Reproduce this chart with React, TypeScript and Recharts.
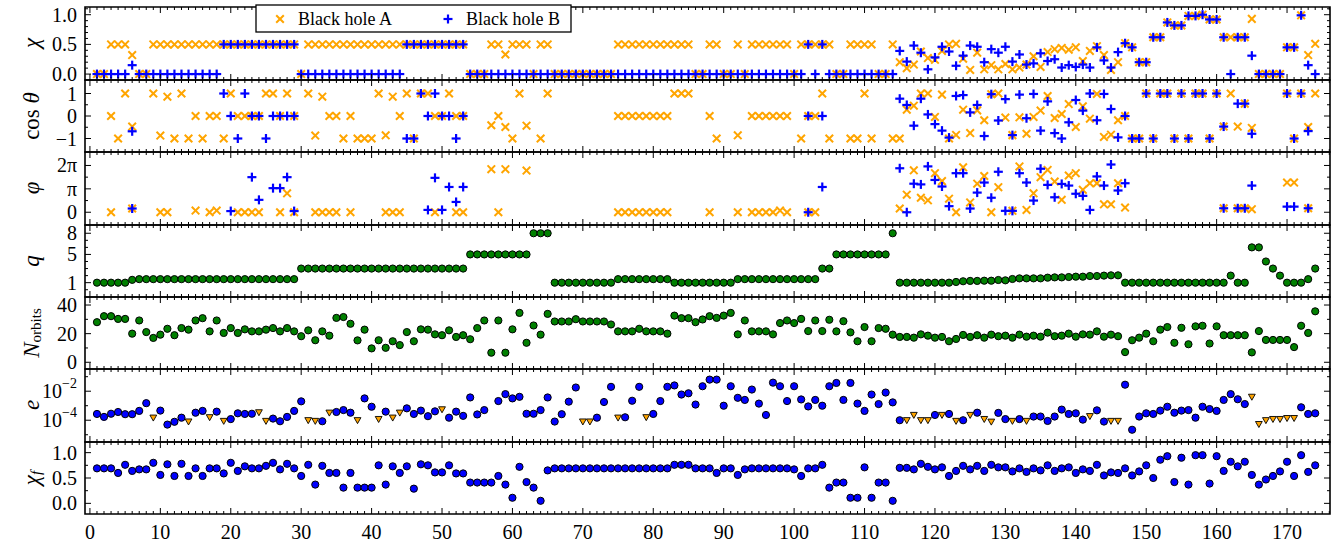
import React from "react";
import { ScatterChart, Scatter, XAxis, YAxis, ReferenceArea } from "recharts";

const n = null;

// spin magnitudes
const chiA = [
  0, 0, 0.5, 0.5, 0.5, 0.32, 0, 0, 0.5, 0.5,
  0.5, 0.5, 0.5, 0.5, 0.5, 0.5, 0.5, 0.5, 0.5, 0.5,
  0.5, 0.5, 0.5, 0.5, 0.5, 0.5, 0.5, 0.5, 0.5, 0,
  0.5, 0.5, 0.5, 0.5, 0.5, 0.5, 0.5, 0.5, 0.5, 0.5,
  0.5, 0.5, 0.5, 0.5, 0.5, 0.5, 0.5, 0.5, 0.5, 0.5,
  0.5, 0.5, 0.5, 0, 0, 0, 0.5, 0.5, 0.33, 0.5,
  0.5, 0.5, 0, 0.5, 0.5, 0, 0, 0, 0, 0,
  0, 0, 0, 0, 0.5, 0.5, 0.5, 0.5, 0.5, 0.5,
  0.5, 0.5, 0.5, 0.5, 0.5, 0, 0, 0.5, 0.5, 0,
  0, 0.5, 0, 0.5, 0.5, 0.5, 0.5, 0.5, 0.5, 0,
  0.5, 0.5, 0.5, 0.5, 0.5, 0, 0, 0.5, 0.5, 0.5,
  0.5, 0, 0, 0.5, 0.2, 0.1, 0.16, 0.38, 0.27, 0.24,
  0.39, 0.5, 0.51, 0.26, 0.07, 0.36, 0.08, 0.15, 0.08, 0.17,
  0.08, 0.11, 0.16, 0.3, 0.12, 0.37, 0.42, 0.44, 0.41, 0.45,
  0.22, 0.39, 0.47, 0.32, 0.07, 0.2, 0.52, 0.45, 0.2, 0.2,
  0.62, 0.62, 0.87, 0.82, 0.82, 0.98, 0.98, 1.0, 0.92, 0.92,
  0.62, 0.62, 0.62, 0.62, 0.93, 0, 0, 0, 0, 0.45,
  0.45, 0.99, 0.32, 0.51,
];
const chiB = [
  0, 0, 0, 0, 0, 0.15, 0, 0, 0, 0,
  0, 0, 0, 0, 0, 0, 0, 0, 0.5, 0.5,
  0.5, 0.5, 0.5, 0.5, 0.5, 0.5, 0.5, 0.5, 0.5, 0,
  0, 0, 0, 0, 0, 0, 0, 0, 0, 0,
  0, 0, 0, 0, 0.5, 0.5, 0.5, 0.5, 0.5, 0.5,
  0.5, 0.5, 0.5, 0, 0, 0, 0, 0, 0, 0,
  0, 0, 0, 0, 0, 0, 0, 0, 0, 0,
  0, 0, 0, 0, 0, 0, 0, 0, 0, 0,
  0, 0, 0, 0, 0, 0, 0, 0, 0, 0,
  0, 0, 0, 0, 0, 0, 0, 0, 0, 0,
  0, 0.5, 0, 0.5, 0, 0, 0, 0, 0, 0,
  0, 0, 0, 0, 0.39, 0.21, 0.48, 0.36, 0.08, 0.28,
  0.46, 0.38, 0.14, 0.31, 0.48, 0.46, 0.2, 0.42, 0.36, 0.46,
  0.21, 0.33, 0.16, 0.18, 0.35, 0.22, 0.25, 0.11, 0.15, 0.12,
  0.16, 0.11, 0.45, 0.23, 0.11, 0.37, 0.52, 0.45, 0.2, 0.2,
  0.62, 0.62, 0.87, 0.82, 0.82, 0.98, 0.98, 1.0, 0.92, 0.92,
  0.62, 0, 0.62, 0.62, 0.31, 0, 0, 0, 0, 0.45,
  0.45, 0.99, 0.15, 0,
];

// spin directions
const cosThetaA = [
  n, n, 0, -1, 1, -0.47, n, n, 1, -0.87,
  0.86, -1, 1, -1, 0, -1, 0, 0, -1, 1,
  0, 0, 0, 0, 1, 1, 0, 1, 0, n,
  1, -0.87, 0.86, 0, 0, -1, 0, -1, -1, -1,
  1, -0.86, 0.86, 0, 1, -1, 1, 1, 0, 0,
  1, 0, 0, n, n, n, -0.41, 0, -0.49, -1,
  1, -0.43, n, -1, 1, n, n, n, n, n,
  n, n, n, n, 0, 0, 0, 0, 0, 0,
  0, 0, 1, 1, 1, n, n, 0, -1, n,
  n, -0.86, n, 0, 0, 0, 0, 0, 0, n,
  -1, 0, 0, 1, -1, n, n, -1, -1, 1,
  -1, n, n, -1, -1, 0.28, 0.46, 1, 1, -0.04,
  0.95, -1, -0.84, 0.28, -0.76, 0.25, -0.19, 0.97, 1, -0.07,
  -0.85, -0.06, -0.79, -0.04, 0.24, 0.89, -0.09, 0.09, 0.53, -0.49,
  0.43, -0.12, 0.98, -0.93, -0.83, -0.19, 0, -1, -1, 1,
  -1, 1, 1, -1, 1, -1, 1, 1, -1, 1,
  -0.47, 1, -0.47, 0.55, -0.53, n, n, n, n, 1,
  -1, 1, -0.49, 1,
];
const cosThetaB = [
  n, n, n, n, n, -0.68, n, n, n, n,
  n, n, n, n, n, n, n, n, 1, 0,
  -1, 1, 0, 0, -1, 0, 0, 0, 0, n,
  n, n, n, n, n, n, n, n, n, n,
  n, n, n, n, -1, -1, 1, 0, 1, 0,
  0, -1, 0, n, n, n, n, n, n, n,
  n, n, n, n, n, n, n, n, n, n,
  n, n, n, n, n, n, n, n, n, n,
  n, n, n, n, n, n, n, n, n, n,
  n, n, n, n, n, n, n, n, n, n,
  n, 0, n, 0, n, n, n, n, n, n,
  n, n, n, n, 0.77, 0.49, -0.43, 0.77, 0.07, -0.36,
  -0.65, -0.96, 0.89, 0.93, 0.16, 0.49, -0.89, 0.97, -0.2, 0.75,
  -0.85, 0.95, -0.1, 0.98, -0.65, 0.65, -0.76, -1, -0.28, 0.71,
  0.24, 1, -0.19, 0.98, 0.31, -0.95, 0, -1, -1, 1,
  -1, 1, 1, -1, 1, -1, 1, 1, -1, 1,
  -0.47, n, 0.55, 0.55, -0.79, n, n, n, n, 1,
  -1, 1, -0.67, n,
];

// azimuth, in units of pi
const phiA = [
  n, n, 0, n, n, 0.16, n, n, n, 0,
  0, n, n, n, 0.07, n, 0, 0.07, n, n,
  0, 0, 0, 0, n, n, 0, 0.81, 0, n,
  n, 0, 0, 0, 0, n, 0, n, n, n,
  n, 0, 0, 0, n, n, n, n, 0, n,
  n, 0, 0, n, n, n, 1.84, 0, 1.84, n,
  n, 1.78, n, n, n, n, n, n, n, n,
  n, n, n, n, 0, 0, 0, 0, 0, 0,
  0, 0, n, n, n, n, n, 0, n, n,
  n, 0, n, 0, 0, 0, 0, 0.07, 0, n,
  n, 0, 0, n, n, n, n, n, n, n,
  n, n, n, n, 0.16, 0.75, 1.79, 0.62, 0.51, 1.67,
  1.33, 0.58, 0, 1.92, 0.42, 1.22, 1.55, 0, 1.07, n,
  0.06, 1.96, 0.1, 0.81, 1.5, 1.81, 1.31, 0.53, 1.57, 1.67,
  0.96, 1.24, 1.24, 0.34, 0.34, 1.24, 0.2, n, n, n,
  n, n, n, n, n, n, n, n, n, n,
  0.17, n, 0.17, 0.17, 0.13, n, n, n, n, 1.27,
  1.27, n, 0.17, n,
];
const phiB = [
  n, n, n, n, n, 0.16, n, n, n, n,
  n, n, n, n, n, n, n, n, n, 0.05,
  n, n, 1.5, 0.53, n, 1.03, 1.03, 1.5, 0.05, n,
  n, n, n, n, n, n, n, n, n, n,
  n, n, n, n, n, n, n, 0.1, 1.47, 0.1,
  1.08, 0.44, 1.08, n, n, n, n, n, n, n,
  n, n, n, n, n, n, n, n, n, n,
  n, n, n, n, n, n, n, n, n, n,
  n, n, n, n, n, n, n, n, n, n,
  n, n, n, n, n, n, n, n, n, n,
  n, 0, n, 1.08, n, n, n, n, n, n,
  n, n, n, n, 1.88, 0, 1.22, 1.19, 1.96, 1.38,
  1.1, 0.26, 1.67, 1.67, 0.16, 0.84, 1.27, 0.62, 1.73, 0.06,
  0.06, 1.67, 1.27, 0.5, 1.86, 1.17, 0.64, 1.21, 1.14, 0.79,
  0.7, 0.1, 1.53, 1.14, 2.04, 0.93, 1.24, n, n, n,
  n, n, n, n, n, n, n, n, n, n,
  0.17, n, 0.17, 0.17, 1.14, n, n, n, n, 0.24,
  0.24, n, 0.17, n,
];

const massRatio = [
  1, 1, 1, 1, 1, 1.4, 1.5, 1.5, 1.5, 1.5,
  1.5, 1.5, 1.5, 1.5, 1.5, 1.5, 1.5, 1.5, 1.5, 1.5,
  1.5, 1.5, 1.5, 1.5, 1.5, 1.5, 1.5, 1.5, 1.5, 3,
  3, 3, 3, 3, 3, 3, 3, 3, 3, 3,
  3, 3, 3, 3, 3, 3, 3, 3, 3, 3,
  3, 3, 3, 5, 5, 5, 5, 5, 5, 5,
  5, 5, 8, 8, 8, 1, 1, 1, 1, 1,
  1, 1, 1, 1, 1.5, 1.5, 1.5, 1.5, 1.5, 1.5,
  1.5, 1.5, 1, 1, 1, 1, 1, 1, 1, 1,
  1, 1.5, 1.5, 1.5, 1.5, 1.5, 1.5, 1.5, 1.5, 1.5,
  1.5, 1.5, 1.5, 3, 3, 5, 5, 5, 5, 5,
  5, 5, 5, 8, 1, 1, 1, 1, 1, 1,
  1, 1, 1.1, 1.2, 1.25, 1.25, 1.28, 1.28, 1.38, 1.33,
  1.52, 1.61, 1.61, 1.61, 1.61, 1.71, 1.75, 1.75, 1.8, 1.85,
  1.85, 1.94, 1.94, 2, 2.04, 2.04, 1, 1, 1, 1,
  1, 1, 1, 1, 1, 1, 1, 1, 1, 1,
  1, 2, 1, 1, 6, 6, 4, 3, 2, 1,
  1, 1, 1.5, 3,
];

const nOrbits = [
  28, 32.2, 32.2, 30.3, 30.3, 20, 29.2, 21.1, 17, 19.3,
  23.4, 18.9, 23.9, 22.8, 29.2, 30.8, 21.6, 29.2, 20.5, 23.9,
  20.5, 23, 21.6, 21.6, 22.8, 23.9, 21.6, 23.9, 21.6, 18.2,
  22.3, 15.4, 21.6, 18.6, 31, 31.6, 26.9, 15.3, 22.8, 9.7,
  15.4, 10.1, 14.7, 12, 21.1, 14.7, 23, 22.8, 19.5, 18.9,
  22.3, 17.7, 18.9, 16.1, 23.9, 29.2, 6.7, 29.2, 6.7, 23,
  34.5, 13.6, 25.7, 19.3, 33.8, 28.5, 28.5, 28.5, 30.1, 28.5,
  28.5, 28.5, 28.5, 26.4, 21.6, 21.6, 21.6, 23.4, 21.6, 21.6,
  21.6, 20, 32.6, 30.8, 30.8, 28, 29.9, 32.2, 31, 32.6,
  34.5, 19.5, 29.2, 21.6, 21.6, 21.6, 19.5, 27.4, 29.2, 27.4,
  30.3, 21.8, 29.2, 21.8, 29.7, 21.6, 28.7, 20.9, 14.7, 24.6,
  14.7, 23.9, 23.4, 19.3, 17.7, 17.7, 17.2, 19.5, 18.6, 17.2,
  17.7, 14.7, 16.3, 19.1, 17.7, 18.9, 17.2, 19.3, 18.2, 18.6,
  17.2, 19.3, 17.9, 18.6, 17.9, 20.7, 18.2, 18.6, 20, 17.9,
  19.5, 19.3, 21.6, 17.9, 19.3, 18.2, 7.1, 15.4, 17.2, 20,
  14.7, 22.8, 24.6, 13.6, 24.1, 12.6, 25.1, 25.5, 13.1, 25.1,
  18.9, 18.9, 18.9, 18.9, 6.9, 21.8, 15.6, 15.6, 15.6, 15.6,
  10.6, 25.5, 20.5, 35.6,
];

const ecc = [
  2.7e-4, 1.7e-4, 2.8e-4, 3.7e-4, 2.6e-4, 2.6e-4, 4.4e-4, 1.5e-3, 1.5e-4, 4.6e-4,
  5.0e-5, 7.8e-5, 1.5e-4, 8.1e-5, 3.3e-4, 4.4e-4, 1.6e-4, 3.9e-4, 8.9e-5, 1.2e-4,
  3.0e-4, 2.7e-4, 2.8e-4, 3.5e-4, 8.9e-5, 1.3e-4, 8.5e-5, 1.7e-4, 4.4e-4, 2.0e-3,
  1.0e-4, 8.9e-5, 8.5e-5, 3.3e-4, 3.7e-4, 5.0e-4, 3.3e-4, 1.0e-4, 3.2e-3, 8.5e-4,
  1.2e-4, 3.9e-4, 1.5e-4, 3.3e-4, 6.6e-4, 2.7e-4, 4.6e-4, 1.9e-4, 4.1e-4, 5.6e-4,
  1.5e-4, 3.9e-4, 2.0e-4, 3.7e-3, 2.5e-4, 5.0e-4, n, 2.1e-3, 6.3e-3, 3.2e-3,
  4.1e-3, 2.8e-4, 2.8e-4, 5.0e-4, 3.7e-3, 8.1e-5, 2.6e-4, 1.9e-3, 1.8e-2, 8.1e-5,
  8.1e-5, 1.5e-4, 1.8e-3, 2.0e-2, 1.5e-4, 1.6e-4, 2.2e-3, 2.0e-2, 1.6e-4, 2.7e-4,
  2.1e-3, 2.0e-2, 2.5e-2, 5.9e-3, 7.2e-3, 1.2e-3, 2.2e-2, 6.3e-2, 6.3e-2, 1.0e-3,
  2.2e-2, 3.5e-3, 2.5e-3, 1.3e-2, 1.4e-3, 2.3e-4, 3.9e-2, 2.2e-2, 2.1e-3, 2.2e-2,
  2.7e-3, 8.9e-4, 2.5e-3, 1.0e-3, 2.2e-2, 3.7e-2, 2.5e-3, 3.7e-2, 1.4e-3, 4.4e-4,
  5.9e-3, 1.3e-3, 8.1e-3, 1.7e-3, 1.0e-4, 1.0e-4, 2.3e-4, 1.0e-4, 1.0e-4, 2.3e-4,
  2.3e-4, 2.7e-4, 8.9e-5, 1.0e-4, 2.3e-4, 3.3e-4, 1.2e-4, 7.9e-5, 3.2e-4, 1.2e-4,
  8.9e-5, 1.2e-4, 8.9e-5, 1.8e-4, 1.8e-4, 8.9e-5, 1.8e-4, 5.4e-4, 2.7e-4, 3.0e-4,
  1.1e-4, 1.9e-4, 4.8e-4, 8.1e-5, 8.9e-5, 8.9e-5, 2.8e-2, 2.2e-5, 1.8e-4, 3.0e-4,
  2.7e-4, 4.6e-4, 8.5e-4, 3.3e-4, 4.6e-4, 5.0e-4, 1.5e-4, 8.5e-4, 5.9e-4, 4.4e-4,
  2.5e-3, 6.3e-3, 2.8e-3, 1.3e-3, 4.1e-3, 5.4e-5, 1.0e-4, 1.2e-4, 1.2e-4, 1.4e-4,
  1.4e-4, 7.8e-4, 2.7e-4, 3.0e-4,
];
// runs whose eccentricity is only an upper bound
const eccUpperRuns = [
  9, 14, 17, 19, 24, 25, 31, 32, 34, 38, 41, 43, 44, 50, 70, 71, 75, 79,
  116, 117, 118, 119, 121, 123, 125, 127, 128, 131, 133, 142, 145, 146,
  165, 166, 167, 168, 169, 170, 171,
];

const chiFinal = [
  0.69, 0.69, 0.69, 0.6, 0.76, 0.64, 0.67, 0.67, 0.8, 0.56,
  0.77, 0.54, 0.78, 0.54, 0.69, 0.54, 0.69, 0.69, 0.59, 0.8,
  0.64, 0.73, 0.69, 0.69, 0.74, 0.8, 0.67, 0.78, 0.69, 0.54,
  0.76, 0.37, 0.74, 0.6, 0.6, 0.31, 0.6, 0.31, 0.31, 0.31,
  0.75, 0.37, 0.73, 0.6, 0.73, 0.29, 0.77, 0.75, 0.61, 0.61,
  0.75, 0.59, 0.59, 0.41, 0.41, 0.41, 0.41, 0.54, 0.37, 0.11,
  0.72, 0.42, 0.31, 0.05, 0.65, 0.69, 0.69, 0.69, 0.69, 0.69,
  0.69, 0.69, 0.69, 0.69, 0.69, 0.69, 0.69, 0.69, 0.69, 0.69,
  0.69, 0.69, 0.76, 0.76, 0.76, 0.69, 0.69, 0.69, 0.6, 0.69,
  0.69, 0.56, 0.67, 0.69, 0.69, 0.69, 0.69, 0.69, 0.69, 0.67,
  0.54, 0.69, 0.69, 0.76, 0.31, 0.41, 0.41, 0.11, 0.11, 0.71,
  0.11, 0.41, 0.41, 0.05, 0.7, 0.7, 0.67, 0.78, 0.72, 0.67,
  0.71, 0.54, 0.64, 0.74, 0.67, 0.74, 0.64, 0.76, 0.71, 0.71,
  0.63, 0.69, 0.62, 0.69, 0.65, 0.75, 0.64, 0.69, 0.71, 0.6,
  0.67, 0.64, 0.76, 0.55, 0.61, 0.6, 0.69, 0.55, 0.63, 0.75,
  0.5, 0.86, 0.93, 0.42, 0.9, 0.37, 0.95, 0.95, 0.39, 0.93,
  0.64, 0.82, 0.73, 0.82, 0.56, 0.37, 0.47, 0.54, 0.63, 0.82,
  0.54, 0.95, 0.62, 0.75,
];

const FONT = "'Liberation Serif', 'DejaVu Serif', serif";
const ORANGE = "#FFA500";
const BLUE = "#0000FF";
const GREEN = "#008000";
const W = 1341;
const PLOT_L = 85;
const PLOT_R = 1330;
const PAD = 10; // room above/below each panel so tick labels are not clipped
const X_DOMAIN: [number, number] = [-0.7, 176.1];
// one tick per run, labelled every tenth
const xAllTicks = Array.from({ length: 177 }, (_, i) => i);

type Pt = { x: number; y: number };
const toPoints = (vals: (number | null)[]): Pt[] =>
  vals.flatMap((v, i) => (v === null ? [] : [{ x: i + 1, y: v }]));

const eccMeasured = toPoints(ecc.map((v, i) => (eccUpperRuns.includes(i + 1) ? null : v)));
const eccLimits = toPoints(ecc.map((v, i) => (eccUpperRuns.includes(i + 1) ? v : null)));

// marker shapes
const crossShape = (p: any) => (
  <g>
    <line x1={p.cx - 3.8} y1={p.cy - 3.8} x2={p.cx + 3.8} y2={p.cy + 3.8} stroke={ORANGE} strokeWidth={2} />
    <line x1={p.cx - 3.8} y1={p.cy + 3.8} x2={p.cx + 3.8} y2={p.cy - 3.8} stroke={ORANGE} strokeWidth={2} />
  </g>
);
const plusShape = (p: any) => (
  <g>
    <line x1={p.cx - 4.5} y1={p.cy} x2={p.cx + 4.5} y2={p.cy} stroke={BLUE} strokeWidth={2.2} />
    <line x1={p.cx} y1={p.cy - 4.5} x2={p.cx} y2={p.cy + 4.5} stroke={BLUE} strokeWidth={2.2} />
  </g>
);
const dotShape = (fill: string) => (p: any) => (
  <circle cx={p.cx} cy={p.cy} r={3.6} fill={fill} stroke="#000" strokeWidth={1} />
);
const triShape = (p: any) => (
  <polygon
    points={`${p.cx - 3.4},${p.cy - 2.6} ${p.cx + 3.4},${p.cy - 2.6} ${p.cx},${p.cy + 3.4}`}
    fill={ORANGE}
    stroke="#000"
    strokeWidth={0.9}
  />
);

const xTick = (plotTop: number, plotBottom: number, labels: boolean) => (p: any) => {
  const v = p.payload.value as number;
  const major = v % 10 === 0;
  const len = major ? 6 : 3;
  return (
    <g>
      <line x1={p.x} x2={p.x} y1={plotBottom} y2={plotBottom - len} stroke="#000" strokeWidth={1} />
      <line x1={p.x} x2={p.x} y1={plotTop} y2={plotTop + len} stroke="#000" strokeWidth={1} />
      {labels && major && (
        <text x={p.x} y={plotBottom + 25} textAnchor="middle" fontSize={20} fontFamily={FONT} fill="#000">
          {v}
        </text>
      )}
    </g>
  );
};

const yTick = (majors: number[], fmt: (v: number) => React.ReactNode) => (p: any) => {
  const v = p.payload.value as number;
  const major = majors.includes(v);
  const len = major ? 6 : 3;
  return (
    <g>
      <line x1={PLOT_L} x2={PLOT_L + len} y1={p.y} y2={p.y} stroke="#000" strokeWidth={1} />
      <line x1={PLOT_R} x2={PLOT_R - len} y1={p.y} y2={p.y} stroke="#000" strokeWidth={1} />
      {major && (
        <text x={PLOT_L - 8} y={p.y} textAnchor="end" dominantBaseline="central" fontSize={20} fontFamily={FONT} fill="#000">
          {fmt(v)}
        </text>
      )}
    </g>
  );
};

type PanelProps = {
  top: number;
  h: number;
  yDomain: [number, number];
  ticks: number[];
  majors: number[];
  fmt: (v: number) => React.ReactNode;
  series: React.ReactNode[];
  log?: boolean;
  xLabels?: boolean;
};

const Panel = ({ top, h, yDomain, ticks, majors, fmt, series, log, xLabels }: PanelProps) => {
  const padB = xLabels ? 34 : PAD;
  // axes need a non-zero size to be drawn, so they take 1px from the margins
  return (
    <div style={{ position: "absolute", left: 0, top: top - PAD }}>
      <ScatterChart
        width={W}
        height={h + PAD + padB}
        margin={{ top: PAD, right: W - PLOT_R, bottom: padB - 1, left: PLOT_L - 1 }}
      >
        <XAxis
          type="number"
          dataKey="x"
          domain={X_DOMAIN}
          allowDataOverflow
          ticks={xAllTicks}
          interval={0}
          height={1}
          axisLine={false}
          tickLine={false}
          tick={xTick(PAD, PAD + h, !!xLabels)}
        />
        <YAxis
          type="number"
          dataKey="y"
          domain={yDomain}
          scale={log ? "log" : "linear"}
          allowDataOverflow
          ticks={ticks}
          interval={0}
          width={1}
          axisLine={false}
          tickLine={false}
          tick={yTick(majors, fmt)}
        />
        <ReferenceArea
          x1={X_DOMAIN[0]}
          x2={X_DOMAIN[1]}
          y1={yDomain[0]}
          y2={yDomain[1]}
          fill="none"
          stroke="#000"
          strokeWidth={1.6}
          ifOverflow="visible"
        />
        {series}
      </ScatterChart>
    </div>
  );
};

const fmtDec = (v: number) => v.toFixed(1);
const fmtInt = (v: number) => (v < 0 ? `\u2212${-v}` : `${v}`);
const fmtPi = (v: number) => (v === 0 ? "0" : v === 1 ? "\u03c0" : "2\u03c0");
const fmtExp = (v: number) => (
  <>
    10
    <tspan dy={-8} fontSize={14}>{`\u2212${-Math.round(Math.log10(v))}`}</tspan>
  </>
);

const pairSeries = (a: Pt[], b: Pt[]) => [
  <Scatter key="a" data={a} shape={crossShape} isAnimationActive={false} />,
  <Scatter key="b" data={b} shape={plusShape} isAnimationActive={false} />,
];

const titles: { y: number; node: React.ReactNode }[] = [
  { y: 43, node: <tspan fontStyle="italic">χ</tspan> },
  { y: 116, node: <><tspan>cos </tspan><tspan fontStyle="italic">θ</tspan></> },
  { y: 188, node: <tspan fontStyle="italic">φ</tspan> },
  { y: 261, node: <tspan fontStyle="italic">q</tspan> },
  { y: 333, node: <><tspan fontStyle="italic">N</tspan><tspan fontSize={15} dy={5}>orbits</tspan></> },
  { y: 405, node: <tspan fontStyle="italic">e</tspan> },
  { y: 478, node: <><tspan fontStyle="italic">χ</tspan><tspan fontStyle="italic" fontSize={15} dy={5}>f</tspan></> },
];

export default function App() {
  return (
    <div style={{ position: "absolute", left: 0, top: 0, width: W, height: 544, background: "#fff", overflow: "hidden" }}>
      <Panel
        top={7}
        h={73}
        yDomain={[-0.1, 1.13]}
        ticks={[0, 0.1, 0.2, 0.3, 0.4, 0.5, 0.6, 0.7, 0.8, 0.9, 1, 1.1]}
        majors={[0, 0.5, 1]}
        fmt={fmtDec}
        series={pairSeries(toPoints(chiA), toPoints(chiB))}
      />
      <Panel
        top={80}
        h={72}
        yDomain={[-1.6, 1.6]}
        ticks={[-1, -0.5, 0, 0.5, 1]}
        majors={[-1, 0, 1]}
        fmt={fmtInt}
        series={pairSeries(toPoints(cosThetaA), toPoints(cosThetaB))}
      />
      <Panel
        top={152}
        h={73}
        yDomain={[-0.545, 2.575]}
        ticks={[0, 0.5, 1, 1.5, 2]}
        majors={[0, 1, 2]}
        fmt={fmtPi}
        series={pairSeries(toPoints(phiA), toPoints(phiB))}
      />
      <Panel
        top={225}
        h={72}
        yDomain={[-1.03, 9.17]}
        ticks={[0, 1, 2, 3, 4, 5, 6, 7, 8]}
        majors={[1, 5, 8]}
        fmt={fmtInt}
        series={[<Scatter key="q" data={toPoints(massRatio)} shape={dotShape(GREEN)} isAnimationActive={false} />]}
      />
      <Panel
        top={297}
        h={72}
        yDomain={[-4.7, 45.6]}
        ticks={[0, 10, 20, 30, 40]}
        majors={[0, 20, 40]}
        fmt={fmtInt}
        series={[<Scatter key="n" data={toPoints(nOrbits)} shape={dotShape(GREEN)} isAnimationActive={false} />]}
      />
      <Panel
        top={369}
        h={73}
        yDomain={[Math.pow(10, -5.5), Math.pow(10, -0.47)]}
        log
        ticks={[1e-5, 1e-4, 1e-3, 1e-2, 1e-1]}
        majors={[1e-4, 1e-2]}
        fmt={fmtExp}
        series={[
          <Scatter key="e" data={eccMeasured} shape={dotShape(BLUE)} isAnimationActive={false} />,
          <Scatter key="eu" data={eccLimits} shape={triShape} isAnimationActive={false} />,
        ]}
      />
      <Panel
        top={442}
        h={72}
        yDomain={[-0.21, 1.21]}
        ticks={[0, 0.25, 0.5, 0.75, 1]}
        majors={[0, 0.5, 1]}
        fmt={fmtDec}
        xLabels
        series={[<Scatter key="cf" data={toPoints(chiFinal)} shape={dotShape(BLUE)} isAnimationActive={false} />]}
      />
      <svg width={W} height={544} style={{ position: "absolute", left: 0, top: 0, pointerEvents: "none" }}>
        {titles.map((t, i) => (
          <text
            key={i}
            transform={`translate(31, ${t.y}) rotate(-90)`}
            textAnchor="middle"
            dominantBaseline="central"
            fontSize={23}
            fontFamily={FONT}
            fill="#000"
          >
            {t.node}
          </text>
        ))}
        <rect x={256} y={5} width={315} height={27} fill="#fff" stroke="#000" strokeWidth={1.3} />
        {crossShape({ cx: 280, cy: 19 })}
        <text x={298} y={25} fontSize={18} fontFamily={FONT} fill="#000">Black hole A</text>
        {plusShape({ cx: 448, cy: 19 })}
        <text x={466} y={25} fontSize={18} fontFamily={FONT} fill="#000">Black hole B</text>
      </svg>
    </div>
  );
}
